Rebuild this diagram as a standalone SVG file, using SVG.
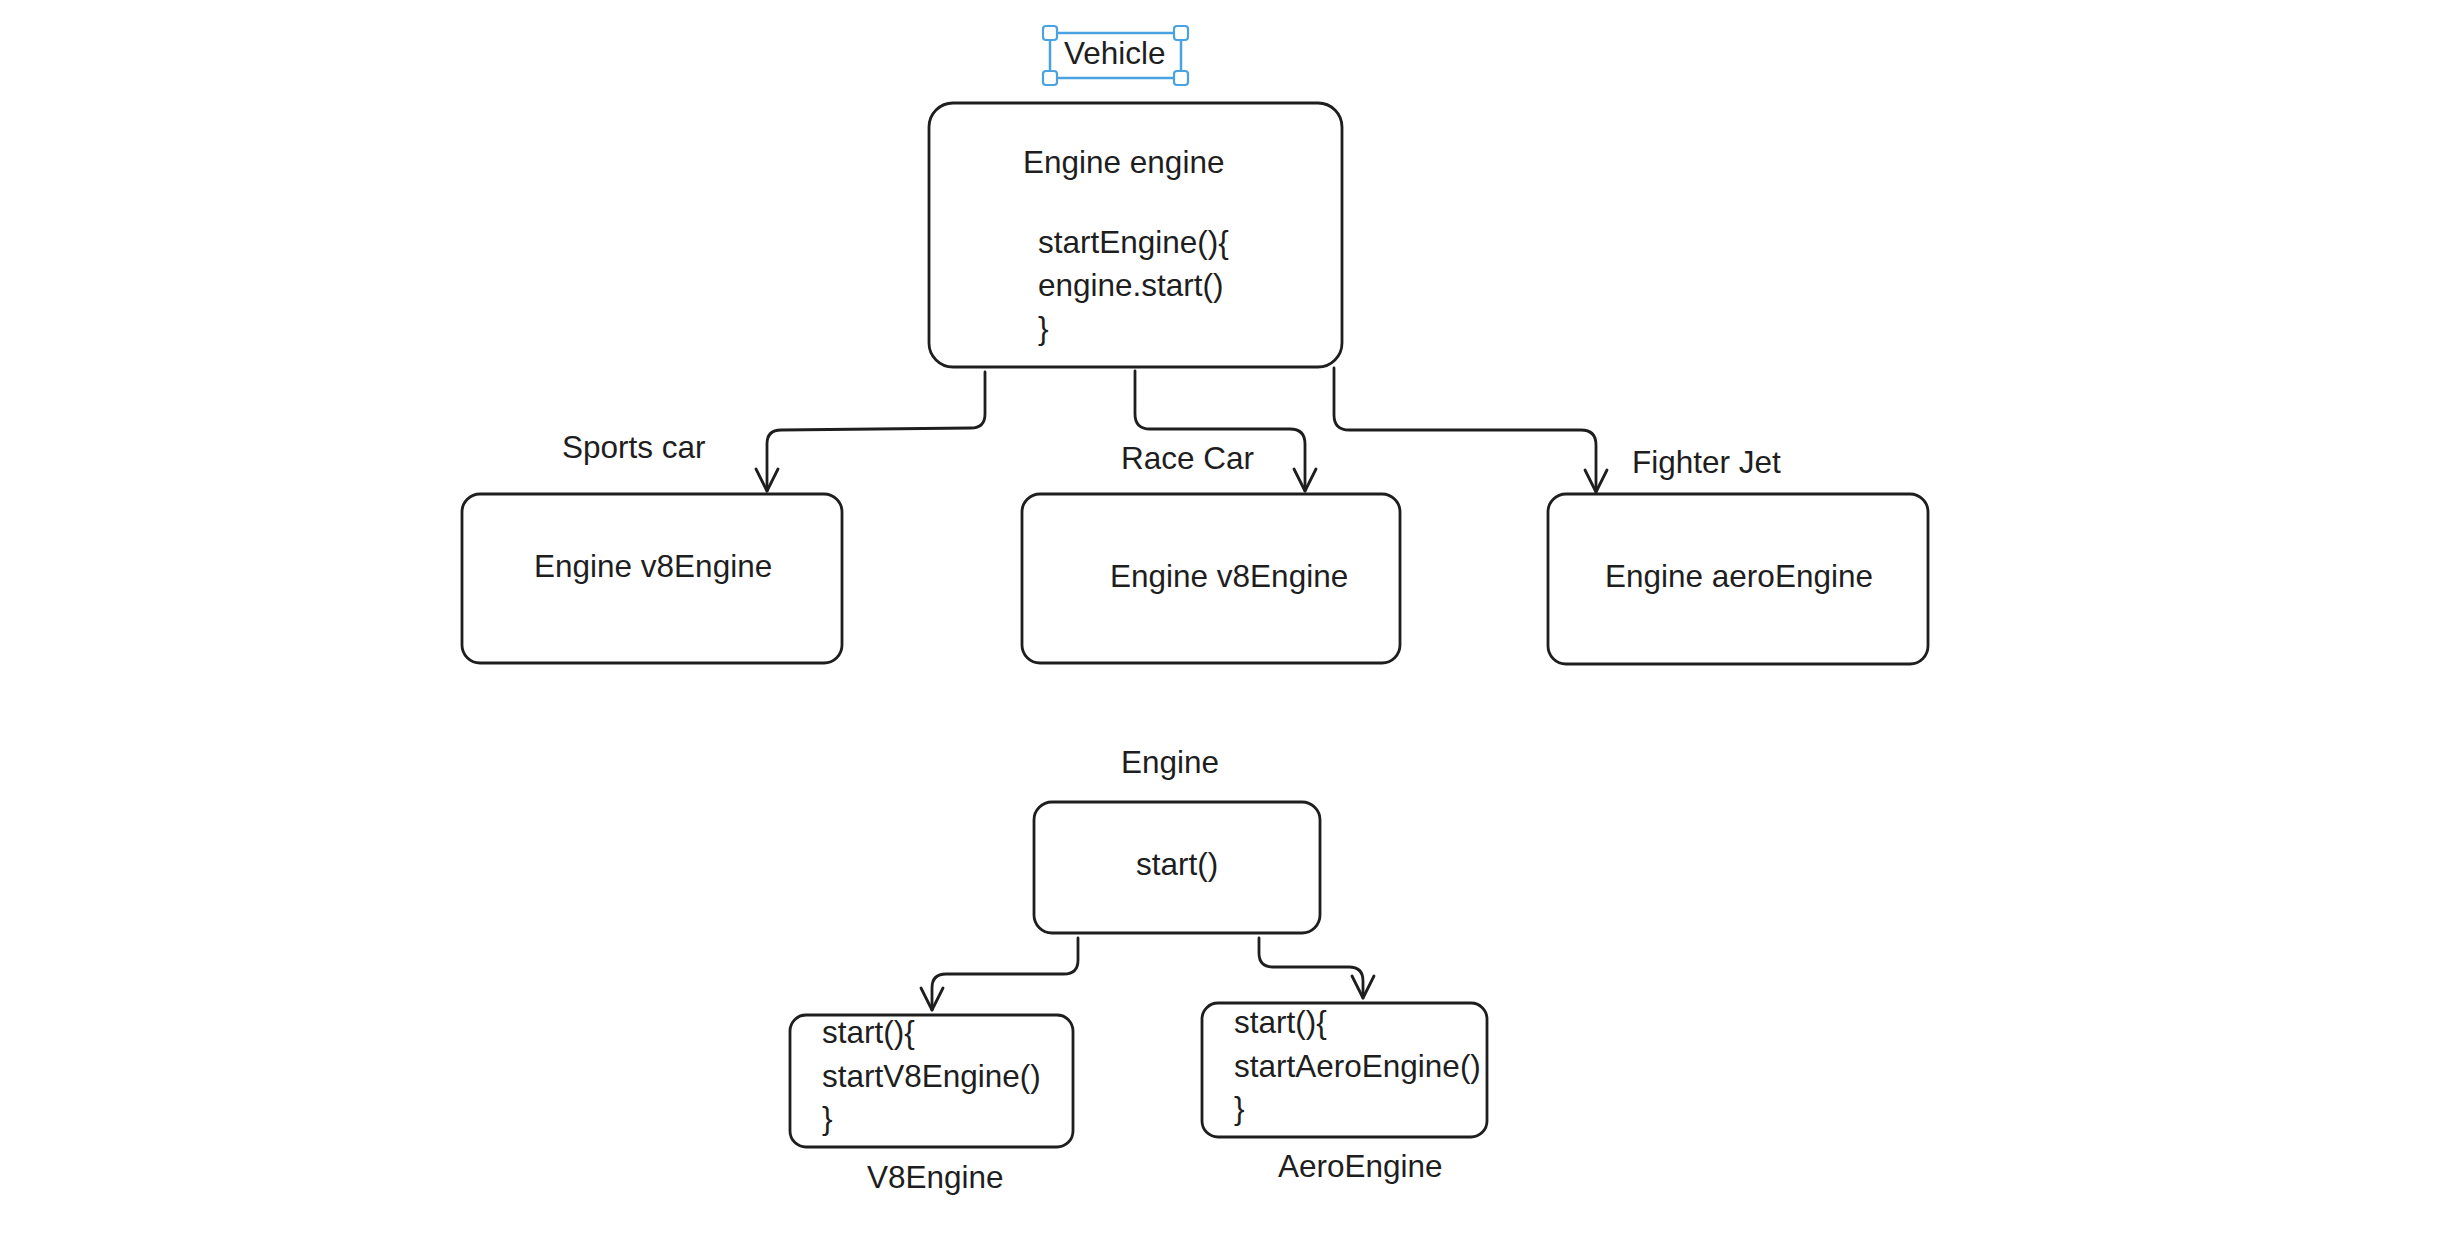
<svg xmlns="http://www.w3.org/2000/svg" width="2456" height="1234" viewBox="0 0 2456 1234">
<style>
  .box { fill: none; stroke: #1e1e1e; stroke-width: 2.8; }
  .conn { fill: none; stroke: #1e1e1e; stroke-width: 2.8; stroke-linecap: round; stroke-linejoin: round; }
  .t { font-family: "Liberation Sans", Arial, Helvetica, sans-serif; font-size: 31.5px; fill: #1e1e1e; }
  .sel { fill: none; stroke: #4aa3e0; stroke-width: 2.5; }
  .handle { fill: #ffffff; stroke: #4aa3e0; stroke-width: 2.2; }
</style>
<defs>
  <marker id="arrow" viewBox="-25 -14 28 28" refX="0" refY="0" markerWidth="28" markerHeight="28" markerUnits="userSpaceOnUse" orient="auto">
    <path d="M-22,-11 L0,0 L-22,11" fill="none" stroke="#1e1e1e" stroke-width="2.8" stroke-linecap="round" stroke-linejoin="round"/>
  </marker>
</defs>
<rect width="2456" height="1234" fill="#ffffff"/>

<g id="vehicle-label">
  <rect class="sel" x="1050" y="33" width="131" height="45"/>
  <rect class="handle" x="1043" y="26" width="14" height="14" rx="3"/>
  <rect class="handle" x="1174" y="26" width="14" height="14" rx="3"/>
  <rect class="handle" x="1043" y="71" width="14" height="14" rx="3"/>
  <rect class="handle" x="1174" y="71" width="14" height="14" rx="3"/>
  <text class="t" x="1064" y="64">Vehicle</text>
</g>

<g id="vehicle">
  <rect class="box" x="929" y="103" width="413" height="264" rx="24"/>
  <text class="t" x="1023" y="173">Engine engine</text>
  <text class="t" x="1038" y="253">startEngine(){</text>
  <text class="t" x="1038" y="296">engine.start()</text>
  <text class="t" x="1038" y="339">}</text>
</g>

<g id="sports-car">
  <text class="t" x="562" y="458">Sports car</text>
  <rect class="box" x="462" y="494" width="380" height="169" rx="18"/>
  <text class="t" x="534" y="577">Engine v8Engine</text>
</g>

<g id="race-car">
  <text class="t" x="1121" y="469">Race Car</text>
  <rect class="box" x="1022" y="494" width="378" height="169" rx="18"/>
  <text class="t" x="1110" y="587">Engine v8Engine</text>
</g>

<g id="fighter-jet">
  <text class="t" x="1632" y="473">Fighter Jet</text>
  <rect class="box" x="1548" y="494" width="380" height="170" rx="18"/>
  <text class="t" x="1605" y="587">Engine aeroEngine</text>
</g>

<g id="engine">
  <text class="t" x="1121" y="773">Engine</text>
  <rect class="box" x="1034" y="802" width="286" height="131" rx="18"/>
  <text class="t" x="1136" y="875">start()</text>
</g>

<g id="v8engine">
  <rect class="box" x="790" y="1015" width="283" height="132" rx="16"/>
  <text class="t" x="822" y="1043">start(){</text>
  <text class="t" x="822" y="1087">startV8Engine()</text>
  <text class="t" x="822" y="1129">}</text>
  <text class="t" x="867" y="1188">V8Engine</text>
</g>

<g id="aeroengine">
  <rect class="box" x="1202" y="1003" width="285" height="134" rx="16"/>
  <text class="t" x="1234" y="1033">start(){</text>
  <text class="t" x="1234" y="1077">startAeroEngine()</text>
  <text class="t" x="1234" y="1119">}</text>
  <text class="t" x="1278" y="1177">AeroEngine</text>
</g>

<g id="connectors">
  <path class="conn" marker-end="url(#arrow)" d="M985,372 L985,414 Q985,428 971,428 L781,430 Q767,430 767,444 L767,491"/>
  <path class="conn" marker-end="url(#arrow)" d="M1135,371 L1135,414 Q1135,429 1150,429 L1290,429 Q1305,429 1305,444 L1305,491"/>
  <path class="conn" marker-end="url(#arrow)" d="M1334,368 L1334,415 Q1334,430 1349,430 L1581,430 Q1596,430 1596,445 L1596,492"/>
  <path class="conn" marker-end="url(#arrow)" d="M1078,938 L1078,960 Q1078,974 1064,974 L946,974 Q932,974 932,988 L932,1010"/>
  <path class="conn" marker-end="url(#arrow)" d="M1259,938 L1259,953 Q1259,967 1273,967 L1349,967 Q1363,967 1363,981 L1363,998"/>
</g>
</svg>
